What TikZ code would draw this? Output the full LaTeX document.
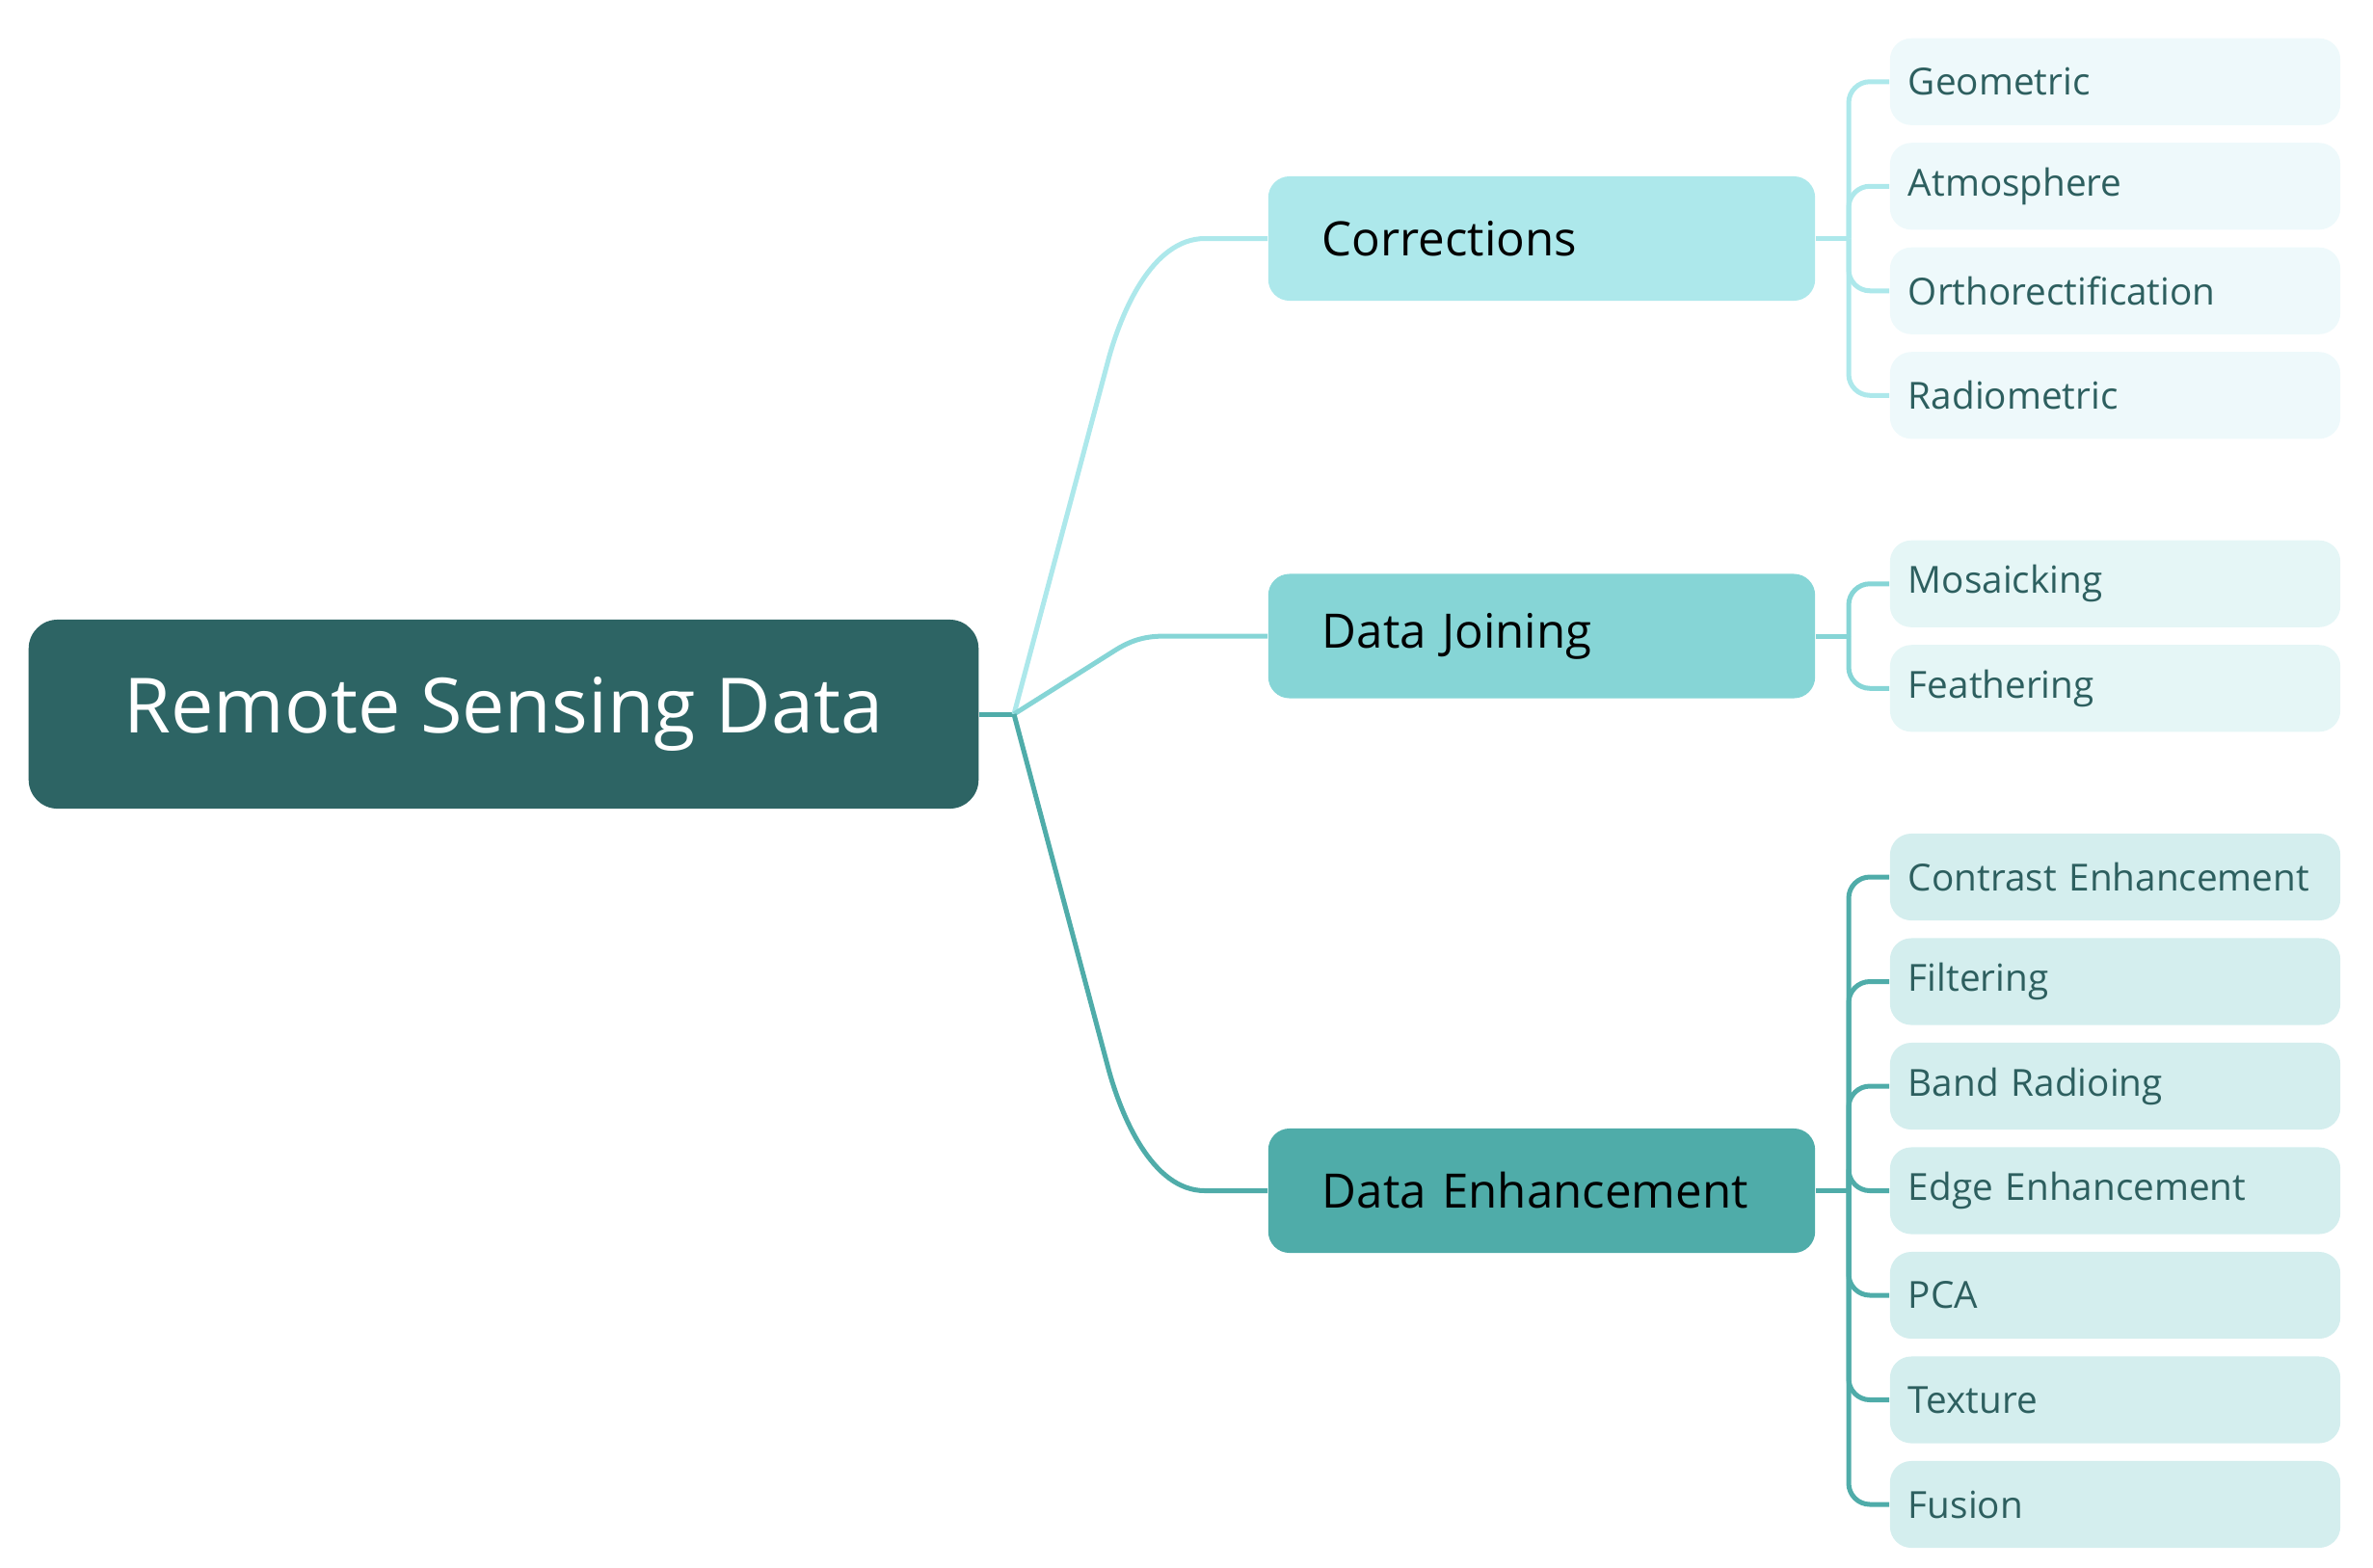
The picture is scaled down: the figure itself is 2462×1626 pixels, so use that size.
\documentclass[tikz,border=0pt]{standalone}
\usepackage{fontspec}
\setmainfont{Open Sans}
\usepackage{xcolor}
\usepackage{tikz}

\definecolor{rootTeal}{HTML}{2D6464}
\definecolor{corrCyan}{HTML}{ADE8EB}
\definecolor{joinCyan}{HTML}{86D5D6}
\definecolor{enhTeal}{HTML}{4FACA9}
\definecolor{corrLeaf}{HTML}{EEF9FB}
\definecolor{joinLeaf}{HTML}{E5F6F6}
\definecolor{enhLeaf}{HTML}{D4EEEE}
\definecolor{leafText}{HTML}{2D5F5F}

\begin{document}
\begin{tikzpicture}[x=0.01cm, y=-0.01cm,
    rootbox/.style={fill=rootTeal, text=white, rounded corners=0.3cm, minimum width=9.85cm, minimum height=1.96cm, font=\fontsize{22.5}{27}\selectfont},
    midbox/.style={rounded corners=0.22cm, text width=4.55cm, inner xsep=0.56cm, inner ysep=0pt, minimum height=1.29cm, align=left, font=\fontsize{14}{17}\selectfont},
    leafbox/.style={rounded corners=0.22cm, text width=4.29cm, inner xsep=0.19cm, inner ysep=0pt, minimum height=0.9cm, align=left, text=leafText, font=\fontsize{11}{13}\selectfont},
    link/.style={line width=0.05cm},
    fork/.style={line width=0.05cm, rounded corners=0.22cm}]
    \useasboundingbox (0,0) rectangle (2462,1626);
    % root
    \node [rootbox] (root) at (522.5,741) {Remote Sensing Data};
    \coordinate (hub) at (1052,741);
    \draw [link, draw=enhTeal] (root.east) -- (hub);
    % second level
    \node [midbox, fill=corrCyan] (corr) at (1599.5,247.5) {Corrections};
    \node [midbox, fill=joinCyan] (join) at (1599.5,660) {Data Joining};
    \node [midbox, fill=enhTeal] (enh) at (1599.5,1235.5) {Data Enhancement};
    \draw [link, draw=corrCyan] (hub) -- (1150,373) .. controls (1163,325) and (1195,247.5) .. (1250,247.5) -- (corr.west);
    \draw [link, draw=joinCyan] (hub) -- (1155,676) .. controls (1175,663) and (1190,660) .. (1210,660) -- (join.west);
    \draw [link, draw=enhTeal] (hub) -- (1150,1109) .. controls (1163,1157) and (1195,1235.5) .. (1250,1235.5) -- (enh.west);
    % corrections leaves
    \node [leafbox, fill=corrLeaf] (geo) at (2194.5,84.75) {Geometric};
    \node [leafbox, fill=corrLeaf] (atmo) at (2194.5,193.25) {Atmosphere};
    \node [leafbox, fill=corrLeaf] (ortho) at (2194.5,301.75) {Orthorectification};
    \node [leafbox, fill=corrLeaf] (radio) at (2194.5,410.25) {Radiometric};
    \coordinate (corrFork) at (1918,247.5);
    \draw [link, draw=corrCyan] (corr.east) -- (corrFork);
    \draw [fork, draw=corrCyan] (corrFork) |- (geo.west);
    \draw [fork, draw=corrCyan] (corrFork) |- (atmo.west);
    \draw [fork, draw=corrCyan] (corrFork) |- (ortho.west);
    \draw [fork, draw=corrCyan] (corrFork) |- (radio.west);
    % data joining leaves
    \node [leafbox, fill=joinLeaf] (mosaic) at (2194.5,605.75) {Mosaicking};
    \node [leafbox, fill=joinLeaf] (feather) at (2194.5,714.25) {Feathering};
    \coordinate (joinFork) at (1918,660);
    \draw [link, draw=joinCyan] (join.east) -- (joinFork);
    \draw [fork, draw=joinCyan] (joinFork) |- (mosaic.west);
    \draw [fork, draw=joinCyan] (joinFork) |- (feather.west);
    % data enhancement leaves
    \node [leafbox, fill=enhLeaf] (contrast) at (2194.5,910) {Contrast Enhancement};
    \node [leafbox, fill=enhLeaf] (filter) at (2194.5,1018.5) {Filtering};
    \node [leafbox, fill=enhLeaf] (band) at (2194.5,1127) {Band Radioing};
    \node [leafbox, fill=enhLeaf] (edge) at (2194.5,1235.5) {Edge Enhancement};
    \node [leafbox, fill=enhLeaf] (pca) at (2194.5,1344) {PCA};
    \node [leafbox, fill=enhLeaf] (texture) at (2194.5,1452.5) {Texture};
    \node [leafbox, fill=enhLeaf] (fusion) at (2194.5,1561) {Fusion};
    \coordinate (enhFork) at (1918,1235.5);
    \draw [link, draw=enhTeal] (enh.east) -- (enhFork);
    \draw [fork, draw=enhTeal] (enhFork) |- (contrast.west);
    \draw [fork, draw=enhTeal] (enhFork) |- (filter.west);
    \draw [fork, draw=enhTeal] (enhFork) |- (band.west);
    \draw [fork, draw=enhTeal] (enhFork) |- (edge.west);
    \draw [fork, draw=enhTeal] (enhFork) |- (pca.west);
    \draw [fork, draw=enhTeal] (enhFork) |- (texture.west);
    \draw [fork, draw=enhTeal] (enhFork) |- (fusion.west);
\end{tikzpicture}
\end{document}
